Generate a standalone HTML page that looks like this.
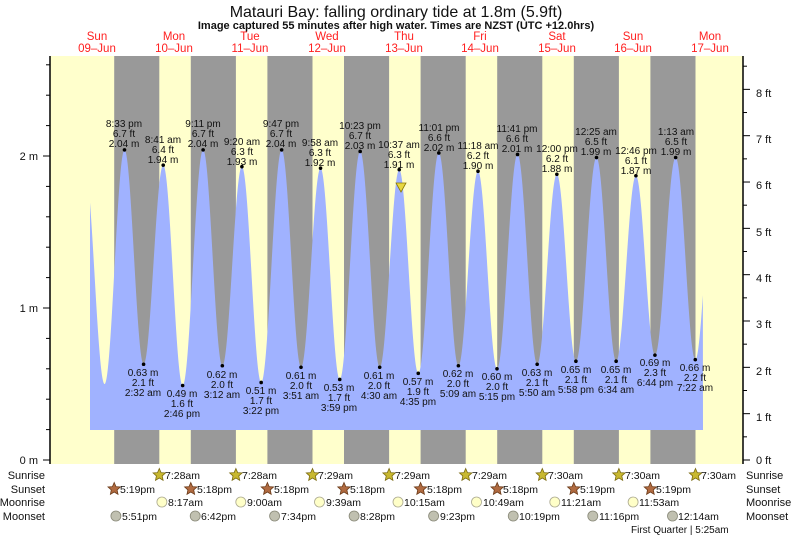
<!DOCTYPE html>
<html><head><meta charset="utf-8"><style>
body{margin:0;background:#fff;}
svg{display:block;font-family:"Liberation Sans",sans-serif;}
.t{font-size:10px;fill:#111;text-anchor:middle;}
.r{font-size:11px;fill:#111;}
.d{font-size:11.5px;fill:#ff2020;text-anchor:middle;}
</style></head><body>
<svg id="s" width="793" height="537" viewBox="0 0 793 537">
<rect x="50" y="56" width="693" height="408" fill="#ffffcc"/>
<g id="nights" fill="#999999"></g>
<path id="tide" fill="#a0b2ff"/>
<g id="ticks" stroke="#000" stroke-width="1"></g>
<line x1="50" y1="56" x2="50" y2="464" stroke="#000" stroke-width="1.5"/>
<line x1="743" y1="56" x2="743" y2="464" stroke="#000" stroke-width="1.5"/>
<text x="396" y="17" text-anchor="middle" font-size="16" fill="#111">Matauri Bay: falling  ordinary tide at 1.8m (5.9ft)</text>
<text x="396" y="29" text-anchor="middle" font-size="11" font-weight="bold" fill="#111">Image captured 55 minutes after high water. Times are NZST (UTC +12.0hrs)</text>
<text class="d" x="97" y="40">Sun</text><text class="d" x="97" y="52">09–Jun</text>
<text class="d" x="174" y="40">Mon</text><text class="d" x="174" y="52">10–Jun</text>
<text class="d" x="250" y="40">Tue</text><text class="d" x="250" y="52">11–Jun</text>
<text class="d" x="327" y="40">Wed</text><text class="d" x="327" y="52">12–Jun</text>
<text class="d" x="404" y="40">Thu</text><text class="d" x="404" y="52">13–Jun</text>
<text class="d" x="480" y="40">Fri</text><text class="d" x="480" y="52">14–Jun</text>
<text class="d" x="557" y="40">Sat</text><text class="d" x="557" y="52">15–Jun</text>
<text class="d" x="633" y="40">Sun</text><text class="d" x="633" y="52">16–Jun</text>
<text class="d" x="710" y="40">Mon</text><text class="d" x="710" y="52">17–Jun</text>
<g class="r" text-anchor="end">
<text x="38" y="160">2 m</text><text x="38" y="312">1 m</text><text x="38" y="464">0 m</text>
</g>
<g class="r">
<text x="756" y="97">8 ft</text><text x="756" y="143">7 ft</text><text x="756" y="189">6 ft</text><text x="756" y="236">5 ft</text><text x="756" y="282">4 ft</text><text x="756" y="328">3 ft</text><text x="756" y="375">2 ft</text><text x="756" y="421">1 ft</text><text x="756" y="464">0 ft</text>
</g>
<g id="dots" fill="#000"></g>
<g class="t">
<text x="124" y="127">8:33 pm</text><text x="124" y="137">6.7 ft</text><text x="124" y="147">2.04 m</text>
<text x="163" y="143">8:41 am</text><text x="163" y="153">6.4 ft</text><text x="163" y="163">1.94 m</text>
<text x="203" y="127">9:11 pm</text><text x="203" y="137">6.7 ft</text><text x="203" y="147">2.04 m</text>
<text x="242" y="145">9:20 am</text><text x="242" y="155">6.3 ft</text><text x="242" y="165">1.93 m</text>
<text x="281" y="127">9:47 pm</text><text x="281" y="137">6.7 ft</text><text x="281" y="147">2.04 m</text>
<text x="320" y="146">9:58 am</text><text x="320" y="156">6.3 ft</text><text x="320" y="166">1.92 m</text>
<text x="360" y="129">10:23 pm</text><text x="360" y="139">6.7 ft</text><text x="360" y="149">2.03 m</text>
<text x="399" y="148">10:37 am</text><text x="399" y="158">6.3 ft</text><text x="399" y="168">1.91 m</text>
<text x="439" y="131">11:01 pm</text><text x="439" y="141">6.6 ft</text><text x="439" y="151">2.02 m</text>
<text x="478" y="149">11:18 am</text><text x="478" y="159">6.2 ft</text><text x="478" y="169">1.90 m</text>
<text x="517" y="132">11:41 pm</text><text x="517" y="142">6.6 ft</text><text x="517" y="152">2.01 m</text>
<text x="557" y="152">12:00 pm</text><text x="557" y="162">6.2 ft</text><text x="557" y="172">1.88 m</text>
<text x="596" y="135">12:25 am</text><text x="596" y="145">6.5 ft</text><text x="596" y="155">1.99 m</text>
<text x="636" y="154">12:46 pm</text><text x="636" y="164">6.1 ft</text><text x="636" y="174">1.87 m</text>
<text x="676" y="135">1:13 am</text><text x="676" y="145">6.5 ft</text><text x="676" y="155">1.99 m</text>

<text x="143" y="376">0.63 m</text><text x="143" y="386">2.1 ft</text><text x="143" y="396">2:32 am</text>
<text x="182" y="397">0.49 m</text><text x="182" y="407">1.6 ft</text><text x="182" y="417">2:46 pm</text>
<text x="222" y="378">0.62 m</text><text x="222" y="388">2.0 ft</text><text x="222" y="398">3:12 am</text>
<text x="261" y="394">0.51 m</text><text x="261" y="404">1.7 ft</text><text x="261" y="414">3:22 pm</text>
<text x="301" y="379">0.61 m</text><text x="301" y="389">2.0 ft</text><text x="301" y="399">3:51 am</text>
<text x="339" y="391">0.53 m</text><text x="339" y="401">1.7 ft</text><text x="339" y="411">3:59 pm</text>
<text x="379" y="379">0.61 m</text><text x="379" y="389">2.0 ft</text><text x="379" y="399">4:30 am</text>
<text x="418" y="385">0.57 m</text><text x="418" y="395">1.9 ft</text><text x="418" y="405">4:35 pm</text>
<text x="458" y="377">0.62 m</text><text x="458" y="387">2.0 ft</text><text x="458" y="397">5:09 am</text>
<text x="497" y="380">0.60 m</text><text x="497" y="390">2.0 ft</text><text x="497" y="400">5:15 pm</text>
<text x="537" y="376">0.63 m</text><text x="537" y="386">2.1 ft</text><text x="537" y="396">5:50 am</text>
<text x="576" y="373">0.65 m</text><text x="576" y="383">2.1 ft</text><text x="576" y="393">5:58 pm</text>
<text x="616" y="373">0.65 m</text><text x="616" y="383">2.1 ft</text><text x="616" y="393">6:34 am</text>
<text x="655" y="366">0.69 m</text><text x="655" y="376">2.3 ft</text><text x="655" y="386">6:44 pm</text>
<text x="695" y="371">0.66 m</text><text x="695" y="381">2.2 ft</text><text x="695" y="391">7:22 am</text>
</g>
<polygon points="396,183 406,183 401,192" fill="#e8d840" stroke="#8a7a00" stroke-width="0.8"/>
<g class="r" text-anchor="end">
<text x="45" y="479">Sunrise</text><text x="45" y="493">Sunset</text><text x="45" y="506">Moonrise</text><text x="45" y="520">Moonset</text>
</g>
<g class="r">
<text x="746" y="479">Sunrise</text><text x="746" y="493">Sunset</text><text x="746" y="506">Moonrise</text><text x="746" y="520">Moonset</text>
</g>
<g id="icons"></g>
<g font-size="10.5" fill="#111">
<text x="165" y="479">7:28am</text><text x="242" y="479">7:28am</text><text x="318" y="479">7:29am</text><text x="395" y="479">7:29am</text><text x="472" y="479">7:29am</text><text x="548" y="479">7:30am</text><text x="625" y="479">7:30am</text><text x="701" y="479">7:30am</text>
<text x="120" y="493">5:19pm</text><text x="197" y="493">5:18pm</text><text x="274" y="493">5:18pm</text><text x="350" y="493">5:18pm</text><text x="427" y="493">5:18pm</text><text x="503" y="493">5:18pm</text><text x="580" y="493">5:19pm</text><text x="656" y="493">5:19pm</text>
<text x="168" y="506">8:17am</text><text x="247" y="506">9:00am</text><text x="326" y="506">9:39am</text><text x="404" y="506">10:15am</text><text x="483" y="506">10:49am</text><text x="561" y="506">11:21am</text><text x="639" y="506">11:53am</text>
<text x="122" y="520">5:51pm</text><text x="201" y="520">6:42pm</text><text x="281" y="520">7:34pm</text><text x="360" y="520">8:28pm</text><text x="440" y="520">9:23pm</text><text x="519" y="520">10:19pm</text><text x="599" y="520">11:16pm</text><text x="678" y="520">12:14am</text>
<text x="631" y="533" font-size="10">First Quarter | 5:25am</text>
</g>
</svg>
<script>
var NS="http://www.w3.org/2000/svg";
function el(t,a,p){var e=document.createElementNS(NS,t);for(var k in a)e.setAttribute(k,a[k]);document.getElementById(p).appendChild(e);return e;}
function X(h){return 58.9+3.192*h;}
function Y(m){return 460-152*m;}
for(var k=0;k<8;k++){el('rect',{x:114.2+76.6*k,y:56,width:45.1,height:408},'nights');}
var E=[[8,1.95],[14.3,0.5],[20.55,2.04],[26.53,0.63],[32.68,1.94],[38.77,0.49],[45.18,2.04],[51.2,0.62],[57.33,1.93],[63.37,0.51],[69.78,2.04],[75.85,0.61],[81.97,1.92],[87.98,0.53],[94.38,2.03],[100.5,0.61],[106.62,1.91],[112.58,0.57],[119.02,2.02],[125.15,0.62],[131.3,1.90],[137.25,0.60],[143.68,2.01],[149.83,0.63],[156,1.88],[161.97,0.65],[168.42,1.99],[174.57,0.65],[180.77,1.87],[186.73,0.69],[193.22,1.99],[199.37,0.66],[205.6,2.0]];
function tide(h){for(var i=0;i<E.length-1;i++){if(h>=E[i][0]&&h<=E[i+1][0]){var f=(h-E[i][0])/(E[i+1][0]-E[i][0]);return E[i][1]+(E[i+1][1]-E[i][1])*(1-Math.cos(Math.PI*f))/2;}}return 1;}
var h0=(90-58.9)/3.192,h1=(703-58.9)/3.192,d="M90,430";
for(var h=h0;h<=h1;h+=0.05){d+=" L"+X(h).toFixed(2)+","+Y(tide(h)).toFixed(2);}
d+=" L703,430 Z";document.getElementById('tide').setAttribute('d',d);
for(var i=2;i<E.length-1;i++){el('circle',{cx:X(E[i][0]),cy:Y(E[i][1]),r:1.8},'dots');}
for(var m=0;m<=2.8;m+=0.2){var y=Y(m);el('line',{x1:(Math.abs(m-Math.round(m))<0.01?43:46),y1:y,x2:50,y2:y},'ticks');}
for(var f=0;f<=8.6;f+=0.5){var y=460-46.33*f;el('line',{x1:743,y1:y,x2:(f%1==0?750:747),y2:y},'ticks');}
function star(cx,cy,fill,stroke){var p=[];for(var i=0;i<10;i++){var r=i%2?3:6.5,a=-Math.PI/2+i*Math.PI/5;p.push((cx+r*Math.cos(a)).toFixed(1)+","+(cy+r*Math.sin(a)).toFixed(1));}el('polygon',{points:p.join(' '),fill:fill,stroke:stroke,'stroke-width':0.8},'icons');}
for(var k=0;k<8;k++){star(159.3+76.6*k,475,'#c8b830','#7a6a10');star(114.2+76.6*k,489,'#b06a40','#6a3a18');}
[161.9,240.8,319.5,398,476.5,554.8,633.1].forEach(function(x){el('circle',{cx:x,cy:502,r:5,fill:'#ffffc8',stroke:'#aaa890','stroke-width':0.8},'icons');});
[115.9,195.2,274.6,354.1,433.6,513.2,592.8,672.5].forEach(function(x){el('circle',{cx:x,cy:516,r:5,fill:'#c0c0b0',stroke:'#888878','stroke-width':0.8},'icons');});
</script>
</body></html>
